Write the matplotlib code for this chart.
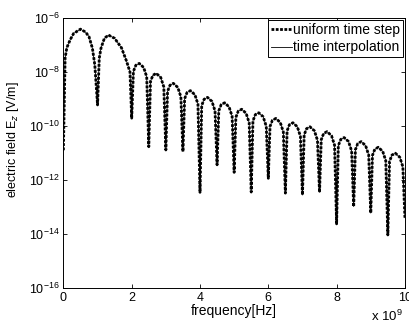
import numpy as np
import matplotlib
matplotlib.use("Agg")
import matplotlib.pyplot as plt

plt.rcParams['font.family'] = ['Liberation Sans', 'DejaVu Sans']
plt.rcParams['mathtext.fontset'] = 'custom'
plt.rcParams['mathtext.rm'] = 'Liberation Sans'

# frequency in units of 1e9 Hz, field as log10 of E_z [V/m]
freq = [0.00, 0.05, 0.10, 0.20, 0.30, 0.50, 0.65, 0.75, 0.85, 0.92, 1.00,
        1.05, 1.10, 1.20, 1.32, 1.50, 1.70, 1.85, 1.95, 2.00,
        2.05, 2.12, 2.22, 2.35, 2.44, 2.50,
        2.55, 2.62, 2.72, 2.85, 2.94, 3.00,
        3.05, 3.12, 3.22, 3.35, 3.44, 3.50,
        3.55, 3.62, 3.72, 3.85, 3.94, 4.00,
        4.05, 4.12, 4.22, 4.35, 4.44, 4.50,
        4.55, 4.62, 4.72, 4.85, 4.94, 5.00,
        5.05, 5.12, 5.22, 5.35, 5.44, 5.50,
        5.55, 5.62, 5.72, 5.85, 5.94, 6.00,
        6.05, 6.12, 6.22, 6.35, 6.44, 6.50,
        6.55, 6.62, 6.72, 6.85, 6.94, 7.00,
        7.05, 7.12, 7.22, 7.35, 7.44, 7.50,
        7.55, 7.62, 7.72, 7.85, 7.94, 8.00,
        8.05, 8.12, 8.22, 8.35, 8.44, 8.50,
        8.55, 8.62, 8.72, 8.85, 8.94, 9.00,
        9.05, 9.12, 9.22, 9.35, 9.44, 9.50,
        9.55, 9.62, 9.72, 9.85, 9.94, 10.00]

log_ez = [-10.90, -7.48, -7.10, -6.80, -6.57, -6.41, -6.52, -6.69, -7.12, -7.74, -9.22,
          -7.49, -7.12, -6.75, -6.63, -6.75, -7.10, -7.60, -8.00, -9.71,
          -7.98, -7.75, -7.68, -7.83, -8.18, -10.77,
          -8.35, -8.12, -8.05, -8.20, -8.55, -10.89,
          -8.72, -8.49, -8.42, -8.57, -8.92, -10.95,
          -8.99, -8.76, -8.69, -8.84, -9.19, -12.46,
          -9.24, -9.01, -8.94, -9.09, -9.44, -11.44,
          -9.44, -9.21, -9.14, -9.29, -9.64, -11.72,
          -9.68, -9.45, -9.38, -9.53, -9.88, -12.45,
          -9.81, -9.58, -9.51, -9.66, -10.01, -11.94,
          -10.02, -9.79, -9.72, -9.87, -10.22, -12.49,
          -10.18, -9.95, -9.88, -10.03, -10.38, -12.56,
          -10.33, -10.10, -10.03, -10.18, -10.53, -12.46,
          -10.51, -10.28, -10.21, -10.36, -10.71, -13.63,
          -10.73, -10.50, -10.43, -10.58, -10.93, -12.99,
          -10.88, -10.65, -10.58, -10.73, -11.08, -13.23,
          -11.09, -10.86, -10.79, -10.94, -11.29, -14.04,
          -11.31, -11.08, -11.01, -11.16, -11.51, -13.40]

ez_uniform = 10.0 ** np.array(log_ez)
ez_interp = 10.0 ** np.array(log_ez)

fig = plt.figure(figsize=(4.09, 3.23), dpi=100)
ax = fig.add_axes([0.155, 0.109, 0.835, 0.835])

ax.semilogy(freq, ez_uniform, color='k', lw=2.0, linestyle=(0, (1, 0.55)),
            label='uniform time step')
ax.semilogy(freq, ez_interp, color='k', lw=0.6, label='time interpolation')

ax.set_xlim(0, 10)
ax.set_ylim(1e-16, 1e-6)
ax.set_xticks([0, 2, 4, 6, 8, 10])
ax.set_yticks([1e-16, 1e-14, 1e-12, 1e-10, 1e-8, 1e-6])
ax.yaxis.set_minor_locator(matplotlib.ticker.NullLocator())
ax.tick_params(direction='in', top=True, right=True, length=3, width=0.6,
               labelsize=9, pad=3)
for s in ax.spines.values():
    s.set_linewidth(0.7)

ax.set_xlabel('frequency[Hz]', fontsize=10, labelpad=0)
ax.set_ylabel('electric field E$_z$ [V/m]', fontsize=9)
ax.yaxis.set_label_coords(-0.125, 0.55)
fig.text(0.908, 0.006, 'x 10$^9$', fontsize=9.5)

leg = ax.legend(loc='upper right', fontsize=10, fancybox=False, framealpha=1,
                edgecolor='k', borderpad=0.2, labelspacing=0.25,
                handlelength=1.5, handletextpad=0.1, borderaxespad=0.15)
leg.get_frame().set_linewidth(0.7)

fig.savefig('out.png', dpi=100)
